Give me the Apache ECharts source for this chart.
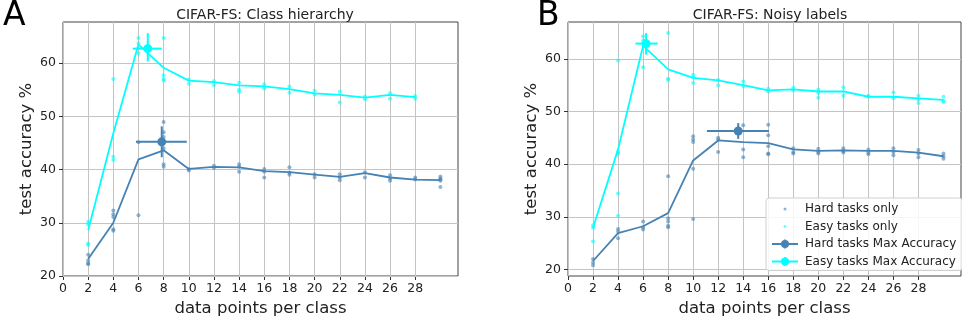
<!DOCTYPE html>
<html>
<head>
<meta charset="utf-8">
<script src="https://cdn.jsdelivr.net/npm/echarts@6/dist/echarts.min.js"></script>
<style>
html, body { margin: 0; padding: 0; background: #fff; }
#chart { width: 962px; height: 322px; }
</style>
</head>
<body>
<div id="chart"></div>
<script>
// axis ticks
const xTicks = [0, 2, 4, 6, 8, 10, 12, 14, 16, 18, 20, 22, 24, 26, 28];
const yTicks = [20, 30, 40, 50, 60];
const shots = [2, 4, 6, 8, 10, 12, 14, 16, 18, 20, 22, 24, 26, 28, 30];

// panel A: class hierarchy
const hardLineA = [23.2, 30.0, 41.9, 43.6, 40.1, 40.5, 40.4, 39.7, 39.5, 39.05, 38.6, 39.3, 38.5, 38.1, 38.0];
const easyLineA = [28.6, 46.8, 63.5, 59.1, 56.7, 56.4, 55.8, 55.6, 55.1, 54.3, 54.0, 53.5, 54.0, 53.6];
const hardDotsA = [
  [2, 24.0], [2, 22.9], [2, 22.4], [2, 22.2],
  [4, 32.3], [4, 31.6], [4, 31.1], [4, 28.8], [4, 28.5],
  [6, 45.1], [6, 31.4],
  [8, 48.9], [8, 47.0], [8, 46.1], [8, 44.0], [8, 41.0], [8, 40.5],
  [10, 40.1], [10, 39.8],
  [12, 40.7], [12, 40.3],
  [14, 41.0], [14, 40.5], [14, 39.6],
  [16, 40.1], [16, 39.6], [16, 38.5],
  [18, 40.4], [18, 39.4], [18, 39.0],
  [20, 39.1], [20, 38.5],
  [22, 39.1], [22, 38.5], [22, 38.0],
  [24, 39.5], [24, 38.5],
  [26, 38.9], [26, 38.3], [26, 37.9],
  [28, 38.5], [28, 38.1],
  [30, 38.7], [30, 38.3], [30, 38.1], [30, 37.9], [30, 36.7]
];
const easyDotsA = [
  [2, 30.2], [2, 29.7], [2, 26.1], [2, 25.8],
  [4, 57.0], [4, 42.4], [4, 41.8],
  [6, 64.7], [6, 63.7], [6, 61.9],
  [8, 64.7], [8, 57.7], [8, 57.0], [8, 56.7],
  [10, 56.9], [10, 56.1],
  [12, 56.6], [12, 55.8],
  [14, 56.3], [14, 55.0], [14, 54.6],
  [16, 56.0], [16, 55.2],
  [18, 55.6], [18, 54.4],
  [20, 54.8], [20, 54.1],
  [22, 54.6], [22, 52.6],
  [24, 53.7], [24, 53.2],
  [26, 54.3], [26, 53.3],
  [28, 53.8], [28, 53.3]
];
// [x, y, xlo, xhi, ylo, yhi]
const hardMaxA = [7.85, 45.2, 5.8, 9.84, 42.3, 48.1];
const easyMaxA = [6.74, 62.7, 5.54, 7.85, 60.3, 65.6];

// panel B: noisy labels
const hardLineB = [21.6, 26.9, 28.2, 30.7, 40.7, 44.5, 44.2, 44.0, 42.8, 42.5, 42.6, 42.5, 42.5, 42.2, 41.5];
const easyLineB = [27.9, 42.8, 62.5, 58.0, 56.4, 55.9, 55.0, 54.0, 54.2, 53.8, 53.8, 52.8, 52.8, 52.5, 52.2];
const hardDotsB = [
  [2, 22.0], [2, 21.3], [2, 20.8],
  [4, 27.7], [4, 27.2], [4, 25.9],
  [6, 29.1], [6, 28.0], [6, 27.6],
  [8, 37.7], [8, 29.7], [8, 29.1], [8, 28.3], [8, 28.0],
  [10, 45.3], [10, 44.7], [10, 44.2], [10, 39.1], [10, 29.6],
  [12, 45.0], [12, 44.7], [12, 42.3],
  [14, 47.4], [14, 42.8], [14, 41.3],
  [16, 47.5], [16, 45.5], [16, 43.4], [16, 42.0], [16, 41.9],
  [18, 43.0], [18, 42.3], [18, 42.0],
  [20, 42.9], [20, 42.3], [20, 42.0],
  [22, 43.0], [22, 42.5], [22, 42.2],
  [24, 42.8], [24, 42.2], [24, 41.9],
  [26, 43.0], [26, 42.3], [26, 41.7],
  [28, 42.7], [28, 42.0], [28, 41.3],
  [30, 42.0], [30, 41.5], [30, 41.0]
];
const easyDotsB = [
  [2, 28.4], [2, 27.9], [2, 25.3],
  [4, 59.7], [4, 42.3], [4, 42.0], [4, 34.4], [4, 30.2],
  [6, 64.3], [6, 63.5], [6, 58.4],
  [8, 64.9], [8, 56.2], [8, 56.0],
  [10, 57.0], [10, 56.5], [10, 55.4],
  [12, 56.0], [12, 55.0],
  [14, 55.7], [14, 54.8],
  [16, 54.3], [16, 53.8],
  [18, 54.5], [18, 54.0],
  [20, 54.2], [20, 53.5], [20, 52.6],
  [22, 54.6], [22, 53.0],
  [24, 53.0], [24, 52.8],
  [26, 53.6], [26, 52.5],
  [28, 53.0], [28, 52.3], [28, 51.6],
  [30, 52.8], [30, 52.0], [30, 51.8]
];
const hardMaxB = [13.6, 46.3, 11.1, 16.06, 44.8, 47.8];
const easyMaxB = [6.24, 62.9, 5.39, 7.17, 60.8, 64.9];

const HARD = '#4682b4';
const EASY = '#00ffff';
const FONT = 'DejaVu Sans';

const dotIcon = 'path://M0,0M30,14M13.5,7a1.5,1.5 0 1 1 3,0a1.5,1.5 0 1 1 -3,0z';
const maxIcon = 'path://M0,0M30,14M2,6.1h26v1.8h-26zM14.1,2.5h1.8v9h-1.8zM11,7a4,4 0 1 1 8,0a4,4 0 1 1 -8,0z';

function renderErr(params, api) {
  const c = api.coord([api.value(0), api.value(1)]);
  const l = api.coord([api.value(2), api.value(1)]);
  const r = api.coord([api.value(3), api.value(1)]);
  const b = api.coord([api.value(0), api.value(4)]);
  const t = api.coord([api.value(0), api.value(5)]);
  const color = api.visual('color');
  return {
    type: 'group',
    children: [
      { type: 'line', shape: { x1: l[0], y1: l[1], x2: r[0], y2: r[1] }, style: { stroke: color, lineWidth: 2 } },
      { type: 'line', shape: { x1: b[0], y1: b[1], x2: t[0], y2: t[1] }, style: { stroke: color, lineWidth: 2 } },
      { type: 'circle', shape: { cx: c[0], cy: c[1], r: 4.5 }, style: { fill: color } }
    ]
  };
}

function pairs(xs, ys) {
  return ys.map((v, i) => [xs[i], v]);
}

function panelSeries(i, hardDots, easyDots, hardLine, easyLine, hardMax, easyMax) {
  return [
    {
      name: 'Hard tasks only', type: 'scatter', xAxisIndex: i, yAxisIndex: i,
      data: hardDots, symbolSize: 4, itemStyle: { color: HARD, opacity: 0.6 },
      markLine: {
        silent: true, symbol: 'none', z: 1, animation: false,
        label: { show: false },
        lineStyle: { color: '#c4c4c4', width: 1, type: 'solid' },
        data: xTicks.map(v => ({ xAxis: v })).concat(yTicks.map(v => ({ yAxis: v })))
      }
    },
    {
      name: 'Easy tasks only', type: 'scatter', xAxisIndex: i, yAxisIndex: i,
      data: easyDots, symbolSize: 4, itemStyle: { color: EASY, opacity: 0.6 }
    },
    {
      name: 'Hard tasks Max Accuracy', type: 'line', xAxisIndex: i, yAxisIndex: i,
      data: pairs(shots, hardLine), symbol: 'none',
      lineStyle: { color: HARD, width: 1.8 }, itemStyle: { color: HARD }
    },
    {
      name: 'Easy tasks Max Accuracy', type: 'line', xAxisIndex: i, yAxisIndex: i,
      data: pairs(shots, easyLine), symbol: 'none',
      lineStyle: { color: EASY, width: 1.8 }, itemStyle: { color: EASY }
    },
    {
      name: 'Hard tasks Max Accuracy', type: 'custom', xAxisIndex: i, yAxisIndex: i, z: 4,
      renderItem: renderErr, data: [hardMax], itemStyle: { color: HARD },
      encode: { x: [0, 2, 3], y: [1, 4, 5] }
    },
    {
      name: 'Easy tasks Max Accuracy', type: 'custom', xAxisIndex: i, yAxisIndex: i, z: 4,
      renderItem: renderErr, data: [easyMax], itemStyle: { color: EASY },
      encode: { x: [0, 2, 3], y: [1, 4, 5] }
    }
  ];
}

function xAxisFor(i) {
  return {
    type: 'value', gridIndex: i, min: 0, max: 31.4,
    name: 'data points per class', nameLocation: 'middle', nameGap: 24,
    nameTextStyle: { fontFamily: FONT, fontSize: 16.5, color: '#222' },
    axisLine: { show: false },
    axisTick: { show: true, customValues: xTicks, length: 4, lineStyle: { color: '#333' } },
    axisLabel: { customValues: xTicks, fontFamily: FONT, fontSize: 12.5, color: '#222', margin: 6 },
    splitLine: { show: false }
  };
}

function yAxisFor(i, min, max) {
  return {
    type: 'value', gridIndex: i, min: min, max: max,
    name: 'test accuracy %', nameLocation: 'middle', nameGap: 28,
    nameTextStyle: { fontFamily: FONT, fontSize: 16.5, color: '#222' },
    axisLine: { show: false },
    axisTick: { show: true, customValues: yTicks, length: 4, lineStyle: { color: '#333' } },
    axisLabel: { customValues: yTicks, fontFamily: FONT, fontSize: 12.5, color: '#222', margin: 7 },
    splitLine: { show: false }
  };
}

const chart = echarts.init(document.getElementById('chart'));
chart.setOption({
  backgroundColor: '#fff',
  animation: false,
  title: [
    { text: 'CIFAR-FS: Class hierarchy', left: 260, top: 3, textAlign: 'center',
      textStyle: { fontFamily: FONT, fontSize: 14, fontWeight: 'normal', color: '#222' } },
    { text: 'CIFAR-FS: Noisy labels', left: 765, top: 3, textAlign: 'center',
      textStyle: { fontFamily: FONT, fontSize: 14, fontWeight: 'normal', color: '#222' } },
    { text: 'A', left: 3, top: 0, padding: 0,
      textStyle: { fontFamily: FONT, fontSize: 33, fontWeight: 'normal', color: '#000' } },
    { text: 'B', left: 537, top: 0, padding: 0,
      textStyle: { fontFamily: FONT, fontSize: 33, fontWeight: 'normal', color: '#000' } }
  ],
  grid: [
    { left: 63, top: 22, width: 395, height: 257, show: true, borderColor: '#444', borderWidth: 1, backgroundColor: 'transparent' },
    { left: 568, top: 22, width: 393, height: 256, show: true, borderColor: '#444', borderWidth: 1, backgroundColor: 'transparent' }
  ],
  xAxis: [xAxisFor(0), xAxisFor(1)],
  yAxis: [yAxisFor(0, 20, 67.7), yAxisFor(1, 18.75, 67)],
  legend: {
    orient: 'vertical', left: 766, top: 198,
    padding: [4, 6, 2, 4], itemGap: 3.5, itemWidth: 30, itemHeight: 14,
    backgroundColor: 'rgba(255,255,255,0.85)', borderColor: '#d0d0d0', borderWidth: 1, borderRadius: 3,
    textStyle: { fontFamily: FONT, fontSize: 12, color: '#222' },
    data: [
      { name: 'Hard tasks only', icon: dotIcon, itemStyle: { borderWidth: 0 } },
      { name: 'Easy tasks only', icon: dotIcon, itemStyle: { borderWidth: 0 } },
      { name: 'Hard tasks Max Accuracy', icon: maxIcon, itemStyle: { borderWidth: 0 } },
      { name: 'Easy tasks Max Accuracy', icon: maxIcon, itemStyle: { borderWidth: 0 } }
    ]
  },
  series: panelSeries(0, hardDotsA, easyDotsA, hardLineA, easyLineA, hardMaxA, easyMaxA)
    .concat(panelSeries(1, hardDotsB, easyDotsB, hardLineB, easyLineB, hardMaxB, easyMaxB))
});
</script>
</body>
</html>
